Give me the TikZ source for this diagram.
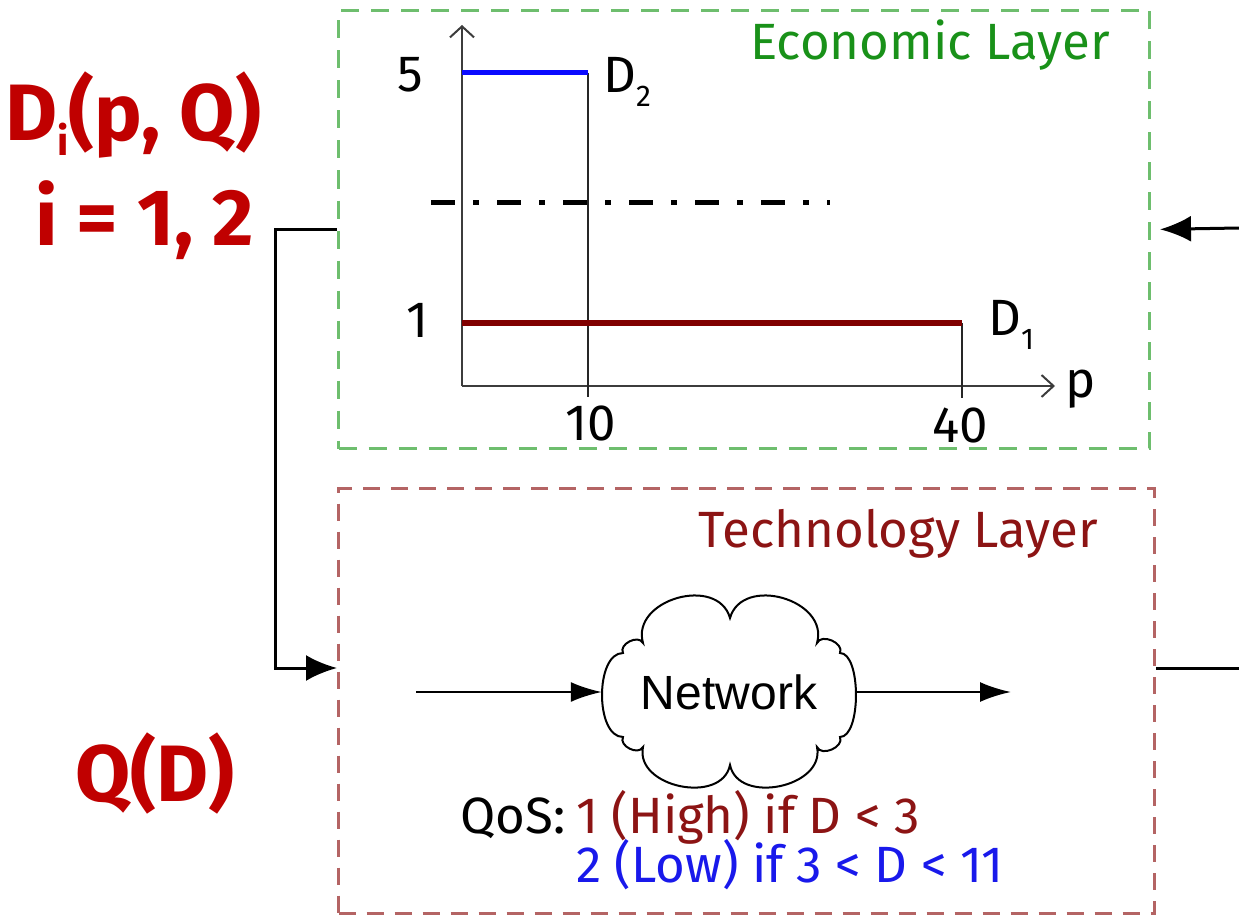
\documentclass[tikz,border=0pt]{standalone}
\usepackage{fontspec}
\setmainfont{Fira Sans}
\newfontfamily\netfont{Liberation Sans}
\usetikzlibrary{arrows.meta,calc}
\definecolor{econline}{RGB}{110,190,110}
\definecolor{econtext}{RGB}{25,145,25}
\definecolor{techline}{RGB}{180,100,100}
\definecolor{techtext}{RGB}{140,20,20}
\definecolor{lefttext}{RGB}{192,0,0}
\definecolor{dtwo}{RGB}{10,10,255}
\definecolor{qlow}{RGB}{25,25,235}
\definecolor{done}{RGB}{128,0,0}
\definecolor{axisgray}{RGB}{60,60,60}
\begin{document}
\begin{tikzpicture}[x=1pt,y=-1pt,
  econbox/.style={draw=econline,dash pattern=on 18pt off 12pt,line width=3pt,inner sep=0pt,anchor=north west},
  techbox/.style={draw=techline,dash pattern=on 17pt off 11pt,line width=3pt,inner sep=0pt,anchor=north west},
  lbl/.style={inner sep=0pt},
  big/.style={lbl,font=\fontsize{51}{60}\selectfont},
  huge/.style={lbl,text=lefttext,font=\fontsize{80}{90}\selectfont\bfseries},
  conn/.style={line width=3pt,draw=black},
  axis/.style={line width=2.5pt,draw=axisgray},
  guide/.style={line width=2pt,draw=black!85},
  tipbig/.style={-{Latex[length=31pt,width=26pt]}},
  tipsmall/.style={-{Latex[length=31pt,width=20pt]}}
]
\useasboundingbox (0,0) rectangle (1239,915);

% boxes
\node[econbox,minimum width=811pt,minimum height=438pt] (econ) at (337,9) {};
\node[techbox,minimum width=816pt,minimum height=425pt] (tech) at (337,487) {};
\node[big,text=econtext,anchor=base east] (econlbl) at (1110,60) {Economic Layer};
\node[big,text=techtext,anchor=base east] (techlbl) at (1098,547) {Technology Layer};

% chart
\draw[axis,-{Straight Barb[length=11pt,width=24pt,line width=2pt]}] (462,386) -- (462,25);
\draw[axis,-{Straight Barb[length=12pt,width=22pt,line width=2pt]}] (462,386) -- (1055,386);
\draw[guide] (588,73) -- (588,397);
\draw[guide] (962,323) -- (962,398);
\draw[line width=5pt,draw=dtwo] (462,73) -- (588,73);
\draw[line width=6pt,draw=done] (462,323) -- (962,323);
\draw[line width=5pt,dash pattern=on 24pt off 18pt on 6pt off 18pt] (431,202) -- (830,202);
\node[big,anchor=base] (five) at (410,92) {5};
\node[big,anchor=base] (one) at (418,337) {1};
\node[big,anchor=base] (ten) at (591,440) {10};
\node[big,anchor=base] (forty) at (960,442) {40};
\node[big,anchor=base west] (plbl) at (1065,397) {p};
\node[big,anchor=base west] (dtwolbl) at (603,93) {D\raisebox{-14pt}{\fontsize{30}{30}\selectfont 2}};
\node[big,anchor=base west] (donelbl) at (988,335) {D\raisebox{-14pt}{\fontsize{30}{30}\selectfont 1}};

% left labels
\node[huge,anchor=base west] (dlbl) at (5,140) {D\raisebox{-15pt}{\fontsize{40}{40}\selectfont i}(p, Q)};
\node[huge,anchor=base west] (ilbl) at (35,245) {i = 1, 2};
\node[huge,anchor=base west] (qlbl) at (75,801) {Q(D)};

% network cloud
\node[lbl,minimum width=254pt,minimum height=190pt,font=\netfont\fontsize{48}{56}\selectfont] (net) at (729,692) {Network};
\draw[line width=2pt]
  (643,643) .. controls (630.6,599.7) and (717.6,574.7) .. (730,618)
            .. controls (742.4,574.7) and (829.4,599.7) .. (817,643)
            .. controls (821.4,633) and (844.4,643) .. (840,653)
            .. controls (861.3,653) and (861.3,737) .. (840,737)
            .. controls (844.4,747) and (821.4,757) .. (817,747)
            .. controls (825.3,787.2) and (738.3,805.2) .. (730,765)
            .. controls (721.7,805.2) and (634.7,787.2) .. (643,747)
            .. controls (638.5,755.9) and (618.5,745.9) .. (623,737)
            .. controls (595,737) and (595,653) .. (623,653)
            .. controls (618.5,644.1) and (638.5,634.1) .. (643,643) -- cycle;
\coordinate (netin) at (416,692);
\coordinate (netout) at (1011,692);
\draw[conn,line width=2.5pt,tipsmall] (netin) -- (net.west);
\draw[conn,line width=2.5pt,tipsmall] (net.east) -- (netout);

% QoS
\node[big,anchor=base east] (qos) at (566,833) {QoS:};
\node[big,anchor=base west,text=techtext] (qhigh) at (576,833) {1 (High) if D < 3};
\node[big,anchor=base west,text=qlow] (qlowlbl) at (576,882) {2 (Low) if 3 < D < 11};

% connectors
\coordinate (techin) at (337,668);
\coordinate (econright) at (1239,228);
\coordinate (techright) at (1239,668);
\draw[conn,tipbig] (econ.west) -- ++(-62,0) |- (techin);
\draw[conn,tipbig,shorten >=9pt] (econright) -- (econ.east);
\draw[conn] (tech.east |- techin) -- (techright);
\end{tikzpicture}
\end{document}
